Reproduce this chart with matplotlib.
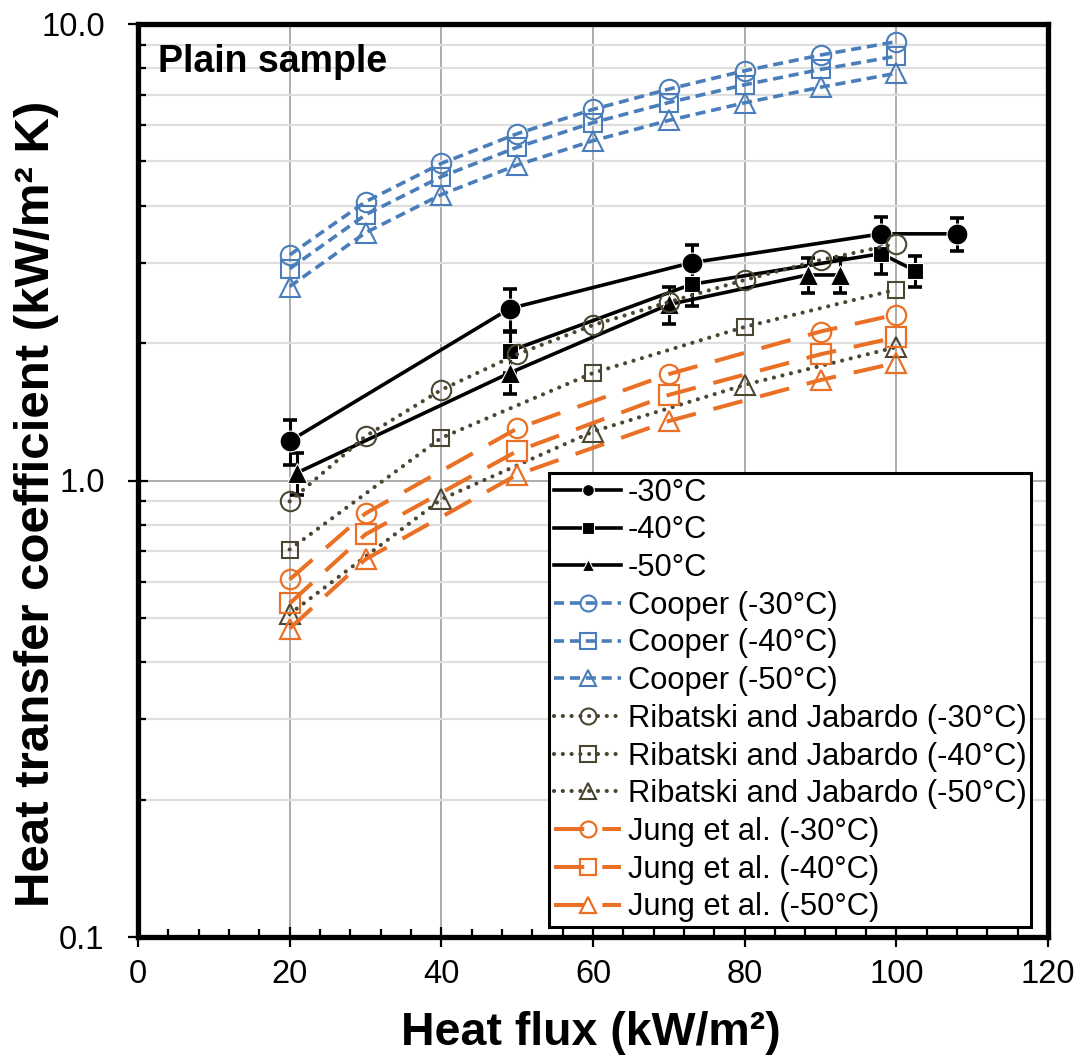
import numpy as np
import matplotlib
matplotlib.use('Agg')
import matplotlib.pyplot as plt
from matplotlib.ticker import FixedLocator, MultipleLocator, LogLocator, NullFormatter, FuncFormatter

plt.rcParams['font.family'] = ['Liberation Sans', 'DejaVu Sans']

# ==== data ====
exp30_q = [20, 49, 73, 98, 108]
exp30_h = [1.22, 2.38, 3.00, 3.47, 3.47]
exp30_err = [0.14, 0.25, 0.28, 0.30, 0.28]

exp40_q = [49, 73, 98, 102.5]
exp40_h = [1.92, 2.69, 3.14, 2.88]
exp40_err = [0.20, 0.28, 0.30, 0.23]

exp50_q = [21, 49, 70, 88.3, 92.6]
exp50_h = [1.04, 1.72, 2.43, 2.82, 2.82]
exp50_err = [0.11, 0.17, 0.23, 0.25, 0.25]

cooper_q = [20, 30, 40, 50, 60, 70, 80, 90, 100]
cooper30_h = [3.12, 4.08, 4.95, 5.75, 6.50, 7.20, 7.90, 8.55, 9.15]
cooper40_h = [2.91, 3.82, 4.63, 5.37, 6.08, 6.73, 7.36, 7.95, 8.50]
cooper50_h = [2.66, 3.49, 4.23, 4.91, 5.55, 6.15, 6.72, 7.27, 7.80]

rib30_q = [20, 30, 40, 50, 60, 70, 80, 90, 100]
rib30_h = [0.90, 1.25, 1.58, 1.89, 2.19, 2.46, 2.75, 3.04, 3.30]
rib_q = [20, 40, 60, 80, 100]
rib40_h = [0.706, 1.24, 1.72, 2.17, 2.62]
rib50_h = [0.51, 0.91, 1.28, 1.62, 1.96]

jung_q = [20, 30, 50, 70, 90, 100]
jung30_h = [0.607, 0.847, 1.30, 1.71, 2.12, 2.31]
jung40_h = [0.538, 0.762, 1.16, 1.54, 1.89, 2.06]
jung50_h = [0.474, 0.672, 1.03, 1.35, 1.66, 1.81]

BLUE = '#4a7ebb'
OLIVE = '#4b4632'
ORANGE = '#e97025'

fig = plt.figure(figsize=(10.82, 10.60), dpi=100)
ax = fig.add_axes([138 / 1082, 1 - 937 / 1060, 910 / 1082, 913 / 1060])
ax.set_yscale('log')
ax.set_xlim(0, 120)
ax.set_ylim(0.1, 10)

# grid
ax.set_axisbelow(True)
ax.xaxis.set_major_locator(MultipleLocator(20))
ax.xaxis.set_minor_locator(MultipleLocator(4))
ax.yaxis.set_major_locator(FixedLocator([0.1, 1, 10]))
ax.yaxis.set_minor_locator(LogLocator(base=10, subs=np.arange(2, 10)))
ax.yaxis.set_minor_formatter(NullFormatter())
ax.yaxis.set_major_formatter(FuncFormatter(lambda v, p: f"{v:.1f}"))
ax.grid(True, which='major', axis='x', color='#a6a6a6', lw=1.3)
ax.grid(True, which='major', axis='y', color='#a6a6a6', lw=1.3)
ax.grid(True, which='minor', axis='y', color='#dedede', lw=1.6)

# experimental series with error bars
exp_style = dict(color='black', lw=2.6, markeredgecolor='white', markeredgewidth=0.8, zorder=4)
for q, h, e in [(exp30_q, exp30_h, exp30_err), (exp40_q, exp40_h, exp40_err),
                (exp50_q, exp50_h, exp50_err)]:
    ax.errorbar(q, h, yerr=e, fmt='none', ecolor='black', elinewidth=2.2,
                capsize=5, capthick=2.6, zorder=3)
ax.plot(exp30_q, exp30_h, marker='o', ms=15, label='-30°C', **exp_style)
ax.plot(exp40_q, exp40_h, marker='s', ms=11.5, label='-40°C', **exp_style)
ax.plot(exp50_q, exp50_h, marker='^', ms=14, label='-50°C', **exp_style)

# Cooper
cdash = (0, (2.8, 1.6))
for h, m, ms, lab in [(cooper30_h, 'o', 14, 'Cooper (-30°C)'),
                      (cooper40_h, 's', 12.5, 'Cooper (-40°C)'),
                      (cooper50_h, '^', 14, 'Cooper (-50°C)')]:
    ax.plot(cooper_q, h, color=BLUE, lw=2.6, ls=cdash, marker=m, ms=ms, mfc='none',
            mec=BLUE, mew=1.5, label=lab, zorder=5)

# Ribatski and Jabardo
rdot = (0, (0.01, 2.1))
for q, h, m, ms, lab in [(rib30_q, rib30_h, 'o', 14, 'Ribatski and Jabardo (-30°C)'),
                         (rib_q, rib40_h, 's', 12, 'Ribatski and Jabardo (-40°C)'),
                         (rib_q, rib50_h, '^', 14, 'Ribatski and Jabardo (-50°C)')]:
    ax.plot(q, h, color=OLIVE, lw=3.0, ls=rdot, dash_capstyle='round', marker=m, ms=ms,
            mfc='none', mec=OLIVE, mew=1.5, label=lab, zorder=5)

# Jung et al.
jdash = (0, (7.5, 4.5))
for h, m, ms, lab in [(jung30_h, 'o', 14, 'Jung et al. (-30°C)'),
                      (jung40_h, 's', 14, 'Jung et al. (-40°C)'),
                      (jung50_h, '^', 14, 'Jung et al. (-50°C)')]:
    ax.plot(jung_q, h, color=ORANGE, lw=2.9, ls=jdash, marker=m, ms=ms, mfc='none',
            mec=ORANGE, mew=1.6, label=lab, zorder=5)

# axes styling
for s in ax.spines.values():
    s.set_linewidth(3.8)
    s.set_zorder(10)
ax.tick_params(axis='both', which='major', direction='inout', length=14, width=1.6,
               labelsize=23.5, colors='black')
ax.tick_params(axis='x', which='major', pad=9)
ax.tick_params(axis='y', which='major', pad=17)
ax.tick_params(axis='both', which='minor', direction='in', length=6, width=1.6)

fig.text(591 / 1082, 1 - 1033 / 1060, 'Heat flux (kW/m²)', fontsize=33.5, fontweight='bold',
         ha='center', va='center')
fig.text(37 / 1082, 1 - 504 / 1060, 'Heat transfer coefficient (kW/m² K)', fontsize=35.5,
         fontweight='bold', rotation=90, ha='center', va='center')
fig.text(158 / 1082, 1 - 72 / 1060, 'Plain sample', fontsize=27, fontweight='bold',
         ha='left', va='baseline')

leg = ax.legend(loc='upper left', bbox_to_anchor=((549 - 138) / 910, (937 - 473) / 913),
                fontsize=22.2, frameon=True, fancybox=False, framealpha=1, edgecolor='black',
                borderpad=0.15, labelspacing=0.25, handlelength=2.2, handletextpad=0.2,
                borderaxespad=0, numpoints=1)
leg.get_frame().set_linewidth(2.2)
leg.set_zorder(20)
for i, hnd in enumerate(leg.legend_handles):
    hnd.set_markersize(8.5 if i < 3 else 11.5)

fig.savefig('out.png', dpi=100)
